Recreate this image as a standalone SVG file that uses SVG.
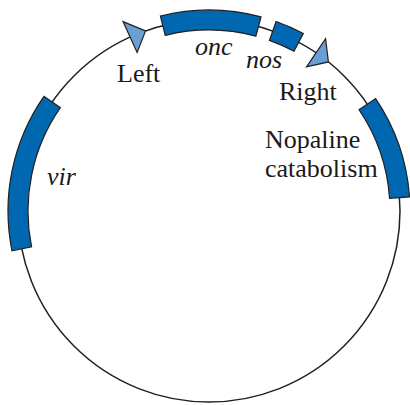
<svg xmlns="http://www.w3.org/2000/svg" width="410" height="405" viewBox="0 0 410 405">
<style>
.bb{fill:#0068b0;stroke:#231f20;stroke-width:1.2;stroke-linejoin:miter}
.ar{fill:#6a9fd6;stroke:#231f20;stroke-width:1.2;stroke-linejoin:miter}
.ln{fill:none;stroke:#231f20;stroke-width:1.5}
.tx{font-size:26px;fill:#1a1a1a}
.it{font-style:italic}
</style>
<rect width="410" height="405" fill="#ffffff"/>
<g id="connectors">
<circle class="ln" cx="209" cy="211" r="191"/>
</g>
<g id="vir">
<path class="bb" d="M11.96,250.74 A201,201 0 0 1 43.96,96.29 L60.38,107.70 A181,181 0 0 0 31.57,246.78 Z"/>
<text class="tx it" font-family="Liberation Serif, serif" x="47" y="185">vir</text>
</g>
<g id="onc">
<path class="bb" d="M160.37,15.97 A201,201 0 0 1 261.02,16.85 L255.84,36.17 A181,181 0 0 0 165.22,35.38 Z"/>
<text class="tx it" font-family="Liberation Serif, serif" x="195" y="55">onc</text>
</g>
<g id="nos">
<path class="bb" d="M276.09,21.54 A201,201 0 0 1 303.37,33.54 L293.98,51.20 A181,181 0 0 0 269.42,40.39 Z"/>
<text class="tx it" font-family="Liberation Serif, serif" x="246" y="68">nos</text>
</g>
<g id="nopaline">
<path class="bb" d="M375.63,98.60 A201,201 0 0 1 409.52,196.97 L389.57,198.37 A181,181 0 0 0 359.05,109.78 Z"/>
<text class="tx" font-family="Liberation Serif, serif" x="265" y="148">Nopaline</text>
<text class="tx" font-family="Liberation Serif, serif" x="265" y="177">catabolism</text>
</g>
<g id="left">
<polygon class="ar" points="123.08,21.58 145.55,30.85 137.12,52.54"/>
<text class="tx" font-family="Liberation Serif, serif" x="117" y="82">Left</text>
</g>
<g id="right">
<polygon class="ar" points="325.60,38.75 328.41,61.94 306.54,66.91"/>
<text class="tx" font-family="Liberation Serif, serif" x="279" y="100">Right</text>
</g>
</svg>
